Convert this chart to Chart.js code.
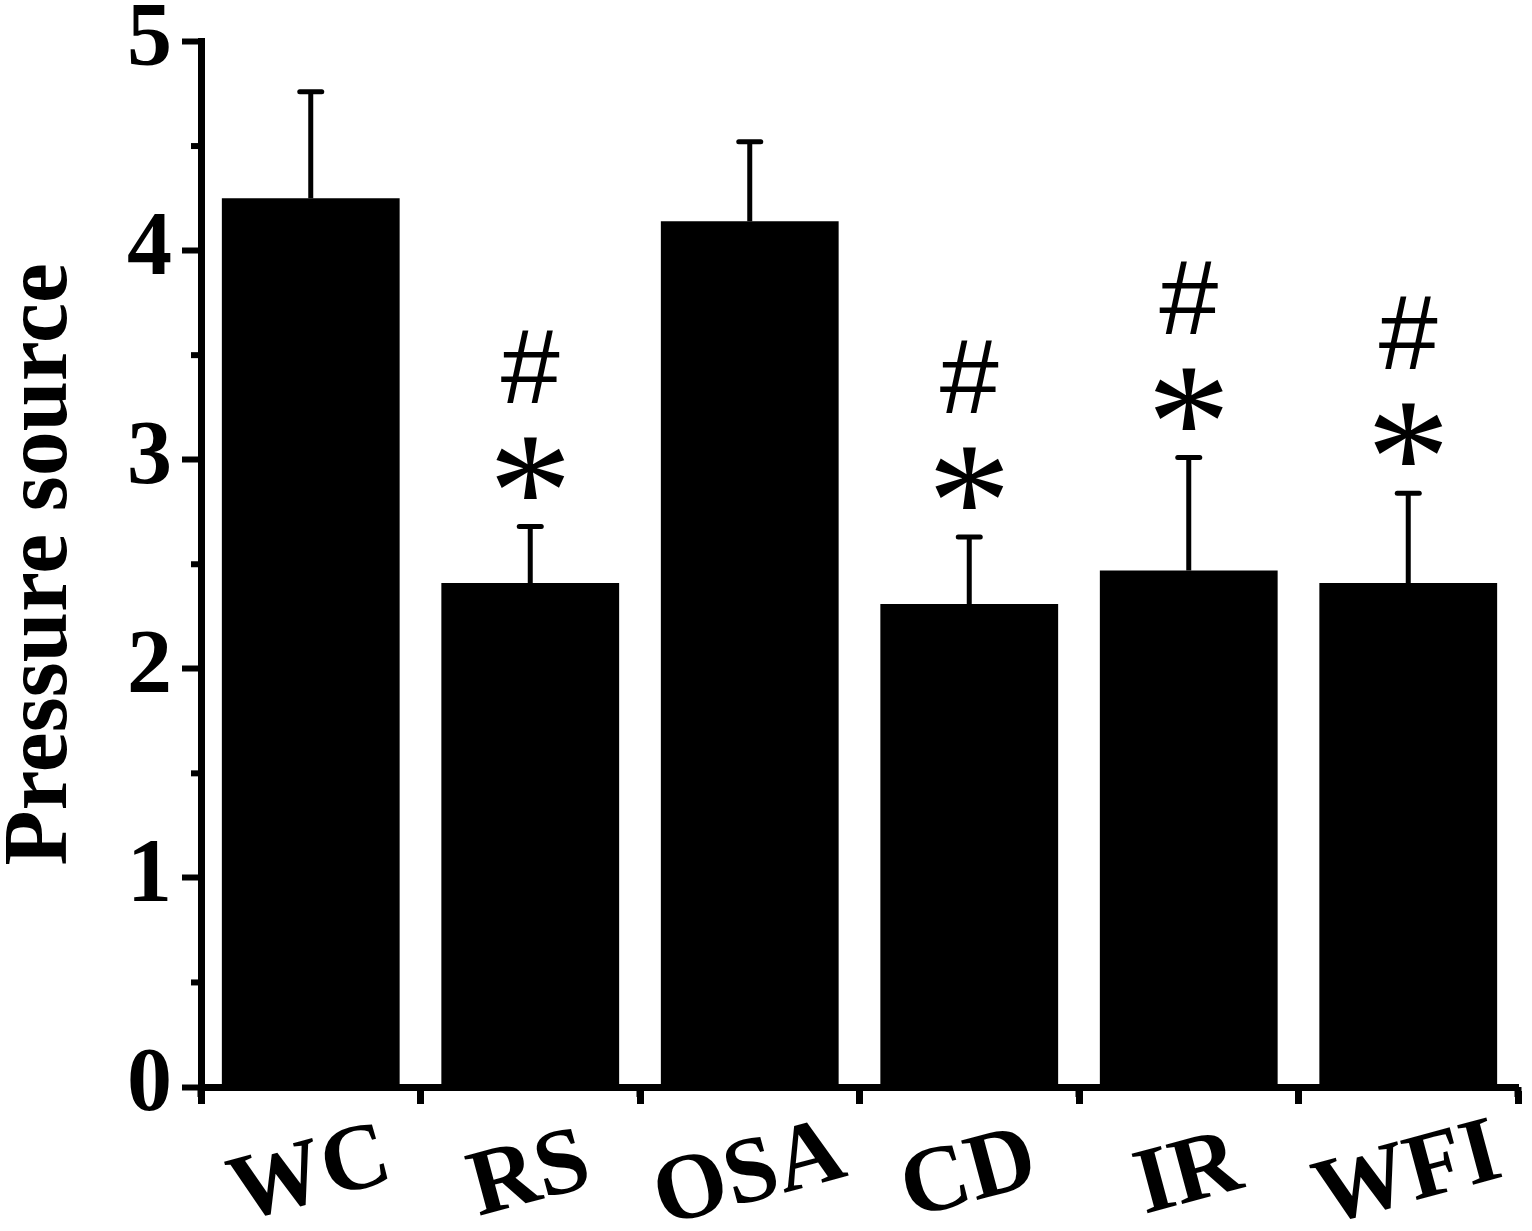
<!DOCTYPE html>
<html>
<head>
<meta charset="utf-8">
<script src="https://cdn.jsdelivr.net/npm/chart.js@4/dist/chart.umd.min.js"></script>
<style>
    html, body { margin: 0; padding: 0; background: #fff; }
    #wrap { width: 1532px; height: 1231px; }
</style>
</head>
<body>
<div id="wrap"><canvas id="barChart"></canvas></div>
<script>
// values
const groups = ['WC', 'RS', 'OSA', 'CD', 'IR', 'WFI'];
const means = [4.25, 2.41, 4.14, 2.31, 2.47, 2.41];
const sds = [0.51, 0.27, 0.38, 0.32, 0.54, 0.43];
const starMarks = ['', '*', '', '*', '*', '*'];
const hashMarks = ['', '#', '', '#', '#', '#'];
const yTicks = [0, 1, 2, 3, 4, 5];

const serif = '"Liberation Serif", "Times New Roman", serif';

// error bars, significance marks, minor ticks and rotated group labels
const extrasPlugin = {
    id: 'extras',
    afterDatasetsDraw(chart) {
        const ctx = chart.ctx;
        const x = chart.scales.x;
        const y = chart.scales.y;
        const area = chart.chartArea;
        ctx.save();
        ctx.strokeStyle = '#000';
        ctx.fillStyle = '#000';

        // minor y ticks at half units
        ctx.lineWidth = 6;
        for (let v = 0.5; v < 5; v += 1) {
            const py = y.getPixelForValue(v);
            ctx.beginPath();
            ctx.moveTo(area.left - 10, py);
            ctx.lineTo(area.left, py);
            ctx.stroke();
        }

        // minor x ticks at group boundaries
        ctx.lineWidth = 7;
        for (let i = 0; i <= groups.length; i++) {
            const px = x.getPixelForValue(i - 0.5);
            ctx.beginPath();
            ctx.moveTo(px, area.bottom);
            ctx.lineTo(px, area.bottom + 10);
            ctx.stroke();
        }

        groups.forEach((g, i) => {
            const px = x.getPixelForValue(i);
            const top = y.getPixelForValue(means[i] + sds[i]);
            const base = y.getPixelForValue(means[i]);

            ctx.lineWidth = 5;
            ctx.lineCap = 'butt';
            ctx.beginPath();
            ctx.moveTo(px, base);
            ctx.lineTo(px, top);
            ctx.stroke();
            ctx.lineCap = 'round';
            ctx.beginPath();
            ctx.moveTo(px - 11, top);
            ctx.lineTo(px + 11, top);
            ctx.stroke();

            ctx.textAlign = 'center';
            ctx.textBaseline = 'middle';
            if (starMarks[i]) {
                ctx.font = '168px ' + serif;
                ctx.fillText(starMarks[i], px, top - 24);
            }
            if (hashMarks[i]) {
                ctx.font = '106px "Liberation Sans", Arial, sans-serif';
                ctx.fillText(hashMarks[i], px, top - 153);
            }

            // group label, rotated and centred on the tick
            ctx.save();
            ctx.translate(px, area.bottom + 90);
            ctx.rotate(-15 * Math.PI / 180);
            ctx.font = 'bold 94px ' + serif;
            ctx.fillText(g, 0, 0);
            ctx.restore();
        });
        ctx.restore();
    }
};

const ctx = document.getElementById('barChart').getContext('2d');
new Chart(ctx, {
    type: 'bar',
    data: {
        labels: groups,
        datasets: [{
            data: means,
            backgroundColor: '#000',
            borderWidth: 0,
            barPercentage: 0.81,
            categoryPercentage: 1
        }]
    },
    options: {
        responsive: true,
        maintainAspectRatio: false,
        animation: false,
        layout: { padding: { top: 35, right: 14, left: 0, bottom: 0 } },
        plugins: {
            legend: { display: false },
            tooltip: { enabled: false }
        },
        scales: {
            x: {
                offset: true,
                grid: { drawOnChartArea: false, tickLength: 17, tickWidth: 7, tickColor: '#000' },
                border: { display: true, color: '#000', width: 7, z: 1 },
                ticks: { display: false },
                afterFit: s => { s.height = 144; }
            },
            y: {
                min: 0,
                max: 5,
                afterBuildTicks: s => { s.ticks = yTicks.map(v => ({ value: v })); },
                grid: { drawOnChartArea: false, tickLength: 19, tickWidth: 6, tickColor: '#000' },
                border: { display: true, color: '#000', width: 7, z: 1 },
                ticks: {
                    color: '#000',
                    padding: 10,
                    font: { family: serif, size: 90, weight: 'bold', lineHeight: 0.7 }
                },
                title: {
                    display: true,
                    text: 'Pressure source',
                    color: '#000',
                    padding: 0,
                    font: { family: serif, size: 90, weight: 'bold', lineHeight: 0.95 }
                },
                afterFit: s => { s.width = 201; }
            }
        }
    },
    plugins: [extrasPlugin]
});
</script>
</body>
</html>
